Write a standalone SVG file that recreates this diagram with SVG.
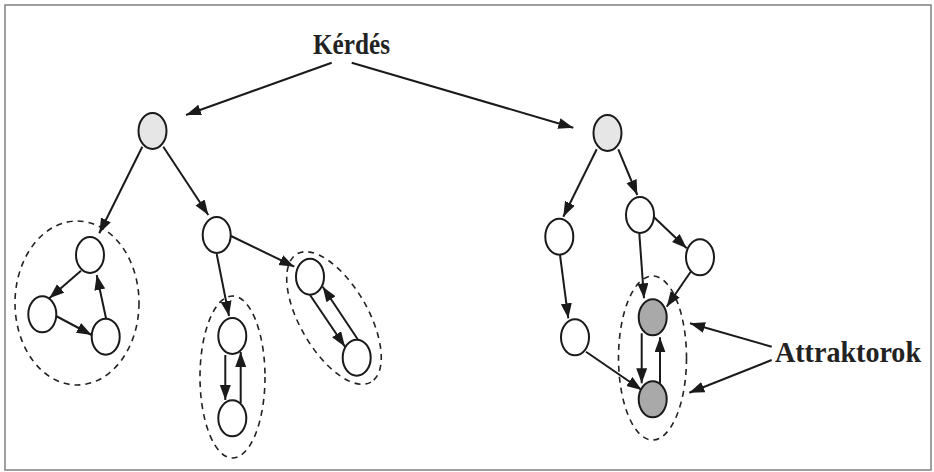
<svg xmlns="http://www.w3.org/2000/svg" width="934" height="472" viewBox="0 0 934 472">
<defs>
<marker id="ah" markerUnits="userSpaceOnUse" markerWidth="16" markerHeight="12" refX="15" refY="5.5" orient="auto"><path d="M0,0 L15,5.5 L0,11 z" fill="#1a1a1a"/></marker>
</defs>
<style>
.n{stroke:#1a1a1a;stroke-width:2;fill:#fff}
.g{fill:#e6e6e6}
.d{fill:#a9a9a9}
.c line{stroke:#1a1a1a;stroke-width:2;marker-end:url(#ah)}
.grp{fill:none;stroke:#222;stroke-width:1.6;stroke-dasharray:6 5}
.t{font-family:"Liberation Serif",serif;font-weight:bold;font-size:30px;fill:#222}
</style>
<rect x="5" y="5" width="926" height="465" fill="#fff" stroke="#808080" stroke-width="1.5"/>
<g id="groups">
<ellipse class="grp" cx="77" cy="303" rx="62" ry="82"/>
<ellipse class="grp" cx="232.5" cy="377" rx="32.5" ry="81"/>
<ellipse class="grp" cx="0" cy="0" rx="74" ry="34" transform="translate(334 318) rotate(60)"/>
<ellipse class="grp" cx="652.5" cy="358" rx="34" ry="82"/>
</g>
<g id="labels">
<text id="kerdes" class="t" x="313" y="53.5" textLength="77" lengthAdjust="spacingAndGlyphs">Kérdés</text>
<text id="attraktorok" class="t" x="775" y="361.7" textLength="146" lengthAdjust="spacingAndGlyphs">Attraktorok</text>
</g>
<g id="connectors" class="c">
<line x1="331.7" y1="62.7" x2="186" y2="115"/>
<line x1="351.7" y1="62.7" x2="573.3" y2="127.7"/>
<line x1="142.3" y1="146.7" x2="99.3" y2="233.3"/>
<line x1="163.3" y1="146.7" x2="208.3" y2="215"/>
<line x1="81" y1="270.7" x2="49.3" y2="298.3"/>
<line x1="56" y1="316" x2="91.7" y2="335"/>
<line x1="106" y1="318.3" x2="96.7" y2="275"/>
<line x1="216.7" y1="254" x2="229" y2="316"/>
<line x1="225.3" y1="355" x2="225.3" y2="400"/>
<line x1="240.7" y1="403" x2="240.7" y2="352"/>
<line x1="231" y1="236" x2="294.3" y2="266.7"/>
<line x1="310" y1="295" x2="345" y2="346.7"/>
<line x1="357.7" y1="339.3" x2="322.7" y2="286.7"/>
<line x1="596.7" y1="149.3" x2="563.3" y2="216.7"/>
<line x1="618.3" y1="149.3" x2="637.3" y2="195"/>
<line x1="560" y1="255" x2="568.3" y2="318.3"/>
<line x1="639.3" y1="233.3" x2="644" y2="298.3"/>
<line x1="651.7" y1="215" x2="686.7" y2="248.3"/>
<line x1="690.7" y1="271.7" x2="666.7" y2="306.7"/>
<line x1="586" y1="351.7" x2="641.7" y2="390"/>
<line x1="641.7" y1="333.3" x2="641.7" y2="383.3"/>
<line x1="660" y1="383.3" x2="660" y2="337.3"/>
<line x1="771.7" y1="346.7" x2="690" y2="323.3"/>
<line x1="771.7" y1="360" x2="689.3" y2="392.7"/>
</g>
<g id="rootL"><ellipse class="n g" cx="152.5" cy="131" rx="14" ry="18"/></g>
<g id="L1"><ellipse class="n" cx="90" cy="255" rx="14" ry="18"/></g>
<g id="L2"><ellipse class="n" cx="42.3" cy="314.3" rx="14" ry="18"/></g>
<g id="L3"><ellipse class="n" cx="105.7" cy="336.7" rx="14" ry="18"/></g>
<g id="M"><ellipse class="n" cx="216.7" cy="235" rx="14" ry="18"/></g>
<g id="M1"><ellipse class="n" cx="232.3" cy="336" rx="14" ry="18"/></g>
<g id="M2"><ellipse class="n" cx="232.3" cy="418.3" rx="14" ry="18"/></g>
<g id="R1"><ellipse class="n" cx="310" cy="276.7" rx="14" ry="18"/></g>
<g id="R2"><ellipse class="n" cx="356.7" cy="357.7" rx="14" ry="18"/></g>
<g id="rootR"><ellipse class="n g" cx="607.5" cy="133" rx="14" ry="18"/></g>
<g id="A"><ellipse class="n" cx="559.3" cy="236.7" rx="14" ry="18"/></g>
<g id="A2"><ellipse class="n" cx="575" cy="337.3" rx="14" ry="18"/></g>
<g id="B"><ellipse class="n" cx="640" cy="215" rx="14" ry="18"/></g>
<g id="C"><ellipse class="n" cx="700" cy="257.3" rx="14" ry="18"/></g>
<g id="D"><ellipse class="n d" cx="652.7" cy="317.3" rx="14" ry="18"/></g>
<g id="E"><ellipse class="n d" cx="652.7" cy="399.3" rx="14" ry="18"/></g>
</svg>
